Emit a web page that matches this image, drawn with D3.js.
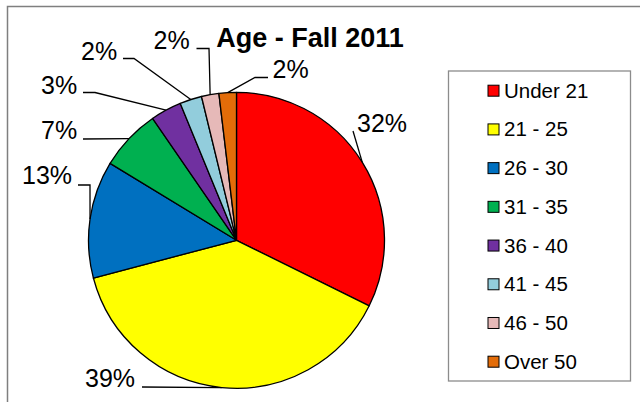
<!DOCTYPE html>
<html>
<head>
<meta charset="utf-8">
<script src="https://cdn.jsdelivr.net/npm/d3@7"></script>
<style>
  html, body { margin: 0; padding: 0; background: #fff; }
  svg text { font-family: "Liberation Sans", Arial, sans-serif; fill: #000; }
</style>
</head>
<body>
<div id="chart"></div>
<script>
// Age distribution, Fall 2011 (share of students, %)
const categories = ['Under 21', '21 - 25', '26 - 30', '31 - 35', '36 - 40', '41 - 45', '46 - 50', 'Over 50'];
const shares = [32.3, 38.6, 12.8, 6.7, 3.4, 2.4, 1.9, 1.9];
const colors = ['#FF0000', '#FFFF00', '#0070C0', '#00B050', '#7030A0', '#92CDDC', '#E6B9B8', '#E36C09'];

const width = 640, height = 402;
const cx = 236.5, cy = 240.3, radius = 148;

// Excel-style label placement: text start/baseline + leader elbow points (page coords)
const labelLayout = [
  { x: 357, y: 132, leader: [[353, 131]] },
  { x: 85, y: 387, leader: [[142, 387]] },
  { x: 22, y: 183.5, leader: [[78, 185], [90, 185]] },
  { x: 41, y: 138.5, leader: [[83, 139]] },
  { x: 41, y: 93.5, leader: [[83, 92.5], [95, 92.5]] },
  { x: 81, y: 60, leader: [[123, 58.5], [134, 58.5]] },
  { x: 153.5, y: 48.5, leader: [[196.5, 48.5], [209, 48.5]] },
  { x: 272.5, y: 78, leader: [[268, 77.5], [255, 77.5]] }
];

const svg = d3.select('#chart').append('svg')
  .attr('width', width)
  .attr('height', height);

// chart area border (runs off the right/bottom of the crop)
svg.append('rect')
  .attr('x', 7.5).attr('y', 6.5)
  .attr('width', 700).attr('height', 450)
  .attr('fill', '#fff')
  .attr('stroke', '#7f7f7f')
  .attr('stroke-width', 1.5);

// Title
svg.append('text')
  .attr('x', 310).attr('y', 46.5)
  .attr('text-anchor', 'middle')
  .style('font-size', '27px')
  .style('font-weight', 'bold')
  .text('Age - Fall 2011');

const pie = d3.pie().sort(null).value(d => d)(shares);
const arc = d3.arc().innerRadius(0).outerRadius(radius);

const g = svg.append('g').attr('transform', `translate(${cx},${cy})`);
g.selectAll('path.slice')
  .data(pie)
  .join('path')
  .attr('class', 'slice')
  .attr('d', arc)
  .attr('fill', (d, i) => colors[i])
  .attr('stroke', '#000')
  .attr('stroke-width', 1.3)
  .attr('stroke-linejoin', 'round');

// Leader lines + percent labels
const total = d3.sum(shares);
pie.forEach((d, i) => {
  const mid = (d.startAngle + d.endAngle) / 2;
  const edge = [cx + radius * Math.sin(mid), cy - radius * Math.cos(mid)];
  const lay = labelLayout[i];
  const pts = [...lay.leader, edge];
  svg.append('path')
    .attr('d', d3.line()(pts))
    .attr('fill', 'none')
    .attr('stroke', '#000')
    .attr('stroke-width', 1.3);
  svg.append('text')
    .attr('x', lay.x).attr('y', lay.y)
    .style('font-size', '25px')
    .text(Math.round(d.value / total * 100) + '%');
});

// Legend
const legend = svg.append('g');
legend.append('rect')
  .attr('x', 448.5).attr('y', 71)
  .attr('width', 182).attr('height', 310)
  .attr('fill', '#fff')
  .attr('stroke', '#8c8c8c')
  .attr('stroke-width', 1.3);

const legendY = d3.scalePoint().domain(categories).range([90.7, 361.7]);
const items = legend.selectAll('g.item')
  .data(categories)
  .join('g')
  .attr('class', 'item')
  .attr('transform', d => `translate(0,${legendY(d)})`);

items.append('rect')
  .attr('x', 488).attr('y', -5.5)
  .attr('width', 11).attr('height', 11)
  .attr('fill', (d, i) => colors[i])
  .attr('stroke', '#000')
  .attr('stroke-width', 1);

items.append('text')
  .attr('x', 504).attr('y', 7)
  .style('font-size', '20.5px')
  .text(d => d);
</script>
</body>
</html>
